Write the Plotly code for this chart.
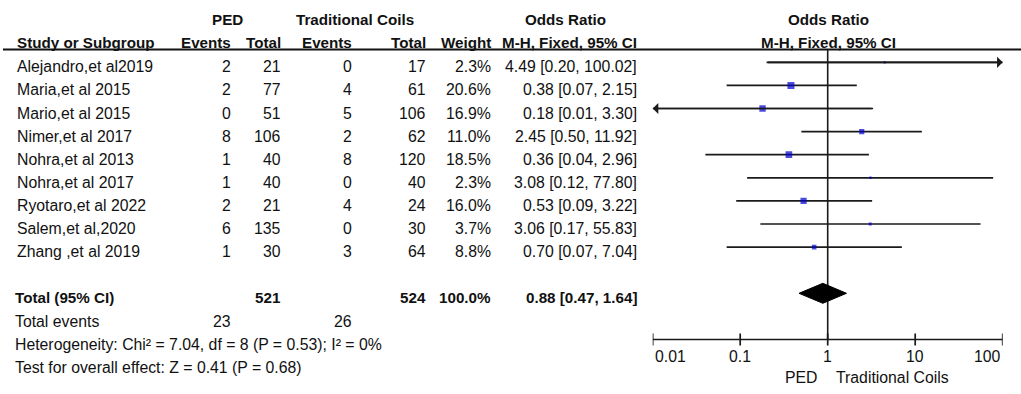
import numpy as np
import plotly.graph_objects as go

# ---------------- data ----------------
studies = ["Alejandro,et al2019", "Maria,et al 2015", "Mario,et al 2015", "Nimer,et al 2017",
           "Nohra,et al 2013", "Nohra,et al 2017", "Ryotaro,et al 2022", "Salem,et al,2020",
           "Zhang ,et al 2019"]
ped_events = [2, 2, 0, 8, 1, 1, 2, 6, 1]
ped_total = [21, 77, 51, 106, 40, 40, 21, 135, 30]
tc_events = [0, 4, 5, 2, 8, 0, 4, 0, 3]
tc_total = [17, 61, 106, 62, 120, 40, 24, 30, 64]
weights = [2.3, 20.6, 16.9, 11.0, 18.5, 2.3, 16.0, 3.7, 8.8]
or_est = [4.49, 0.38, 0.18, 2.45, 0.36, 3.08, 0.53, 3.06, 0.70]
ci_low = [0.20, 0.07, 0.01, 0.50, 0.04, 0.12, 0.09, 0.17, 0.07]
ci_high = [100.02, 2.15, 3.30, 11.92, 2.96, 77.80, 3.22, 55.83, 7.04]

pooled_or = 0.88
pooled_low = 0.47
pooled_high = 1.64
ped_total_n = 521
tc_total_n = 524
ped_total_events = 23
tc_total_events = 26
total_weight = 100.0

heterogeneity_text = "Heterogeneity: Chi² = 7.04, df = 8 (P = 0.53); I² = 0%"
overall_text = "Test for overall effect: Z = 0.41 (P = 0.68)"

tick_vals = [0.01, 0.1, 1, 10, 100]
tick_text = ["0.01", "0.1", "1", "10", "100"]
favours_left = "PED"
favours_right = "Traditional Coils"

# ---------------- layout helpers ----------------
W, H = 1021, 394
R1_PX, ROW_PX = 62.3, 23.1
Y_TOP = 1 - R1_PX / ROW_PX
Y_BOT = 1 + (H - R1_PX) / ROW_PX
XMIN, XMAX = tick_vals[0], tick_vals[-1]


def row_of(px):
    return 1 + (px - R1_PX) / ROW_PX


TEXT_DROP = 4.5 / ROW_PX
FONT = "Liberation Sans, Arial, sans-serif"
TXT_COLOR = "#111111"
REG = 15.8
BLD = 15.2

annotations = []


def txt(s, xpx, row, anchor="left", bold=False, size=None):
    annotations.append(dict(
        text=f"<b>{s}</b>" if bold else s,
        x=xpx / W, xref="paper", y=row, yref="y",
        xanchor=anchor, yanchor="middle", showarrow=False,
        font=dict(family=FONT, size=size or (BLD if bold else REG), color=TXT_COLOR),
    ))


# column positions (pixels)
X_STUDY = 15
X_PED_EV = 233
X_PED_TOT = 283
X_TC_EV = 354
X_TC_TOT = 428
X_WEIGHT = 493
X_OR = 639
X_PLOT_C = 828

# headers
r_h1 = row_of(19)
r_h2 = row_of(42)
txt("PED", 227, r_h1, "center", True)
txt("Traditional Coils", 355, r_h1, "center", True)
txt("Odds Ratio", 565, r_h1, "center", True)
txt("Odds Ratio", X_PLOT_C, r_h1, "center", True)
txt("Study or Subgroup", X_STUDY, r_h2, "left", True)
txt("Events", X_PED_EV, r_h2, "right", True)
txt("Total", X_PED_TOT, r_h2, "right", True)
txt("Events", X_TC_EV, r_h2, "right", True)
txt("Total", X_TC_TOT, r_h2, "right", True)
txt("Weight", X_WEIGHT, r_h2, "right", True)
txt("M-H, Fixed, 95% CI", X_OR, r_h2, "right", True)
txt("M-H, Fixed, 95% CI", X_PLOT_C, r_h2, "center", True)

rows = list(range(1, len(studies) + 1))
for i, r in enumerate(rows):
    rt = r + TEXT_DROP
    txt(studies[i], X_STUDY, rt, "left")
    txt(str(ped_events[i]), X_PED_EV, rt, "right")
    txt(str(ped_total[i]), X_PED_TOT, rt, "right")
    txt(str(tc_events[i]), X_TC_EV, rt, "right")
    txt(str(tc_total[i]), X_TC_TOT, rt, "right")
    txt(f"{weights[i]:.1f}%", X_WEIGHT, rt, "right")
    txt(f"{or_est[i]:.2f} [{ci_low[i]:.2f}, {ci_high[i]:.2f}]", X_OR, rt, "right")

total_row = len(studies) + 2
rt = total_row + TEXT_DROP
txt("Total (95% CI)", 13, rt, "left", True)
txt(str(ped_total_n), X_PED_TOT, rt, "right", True)
txt(str(tc_total_n), X_TC_TOT, rt, "right", True)
txt(f"{total_weight:.1f}%", X_WEIGHT, rt, "right", True)
txt(f"{pooled_or:.2f} [{pooled_low:.2f}, {pooled_high:.2f}]", X_OR, rt, "right", True)

r_ev = row_of(321.5)
txt("Total events", 13, r_ev, "left")
txt(str(ped_total_events), X_PED_EV, r_ev, "right")
txt(str(tc_total_events), X_TC_EV, r_ev, "right")
txt(heterogeneity_text, 13, row_of(344.5), "left")
txt(overall_text, 13, row_of(367.5), "left")

# ---------------- figure ----------------
fig = go.Figure()

underline_row = row_of(49.5)
axis_row = total_row + 2

# vertical line of no effect
fig.add_trace(go.Scatter(x=[1, 1], y=[underline_row, axis_row], mode="lines",
                         line=dict(color="#1a1a1a", width=1.6), hoverinfo="skip"))

# whiskers
wx, wy = [], []
for i, r in enumerate(rows):
    wx += [max(ci_low[i], XMIN), min(ci_high[i], XMAX), None]
    wy += [r, r, None]
fig.add_trace(go.Scatter(x=wx, y=wy, mode="lines",
                         line=dict(color="#1a1a1a", width=1.7), hoverinfo="skip"))

# arrows for truncated CIs
for i, r in enumerate(rows):
    if ci_high[i] >= XMAX:
        annotations.append(dict(x=np.log10(XMAX), y=r, xref="x", yref="y",
                                ax=np.log10(max(ci_low[i], XMIN)), ay=r, axref="x", ayref="y",
                                text="", showarrow=True, arrowhead=1, arrowsize=1.1,
                                arrowwidth=1.7, arrowcolor="#1a1a1a"))
    if ci_low[i] <= XMIN:
        annotations.append(dict(x=np.log10(XMIN), y=r, xref="x", yref="y",
                                ax=np.log10(min(ci_high[i], XMAX)), ay=r, axref="x", ayref="y",
                                text="", showarrow=True, arrowhead=1, arrowsize=1.1,
                                arrowwidth=1.7, arrowcolor="#1a1a1a"))

# point estimates (square area proportional to weight)
fig.add_trace(go.Scatter(x=or_est, y=rows, mode="markers",
                         marker=dict(symbol="square", color="#0000CD",
                                     size=[1.55 * np.sqrt(w) for w in weights],
                                     line=dict(width=0)),
                         hoverinfo="skip"))

# pooled diamond
dh = 10 / ROW_PX
fig.add_trace(go.Scatter(x=[pooled_low, pooled_or, pooled_high, pooled_or, pooled_low],
                         y=[total_row, total_row - dh, total_row, total_row + dh, total_row],
                         mode="lines", fill="toself", fillcolor="#000000",
                         line=dict(color="#000000", width=1), hoverinfo="skip"))

# bottom axis line and ticks
fig.add_trace(go.Scatter(x=[XMIN, XMAX], y=[axis_row, axis_row], mode="lines",
                         line=dict(color="#1a1a1a", width=1.7), hoverinfo="skip"))
tx, ty = [], []
tl = 6 / ROW_PX
for t in tick_vals:
    tx += [t, t, None]
    ty += [axis_row - tl, axis_row + tl, None]
fig.add_trace(go.Scatter(x=tx, y=ty, mode="lines",
                         line=dict(color="#1a1a1a", width=1.7), hoverinfo="skip"))

r_tick = row_of(356.5)
for k, (t, lab) in enumerate(zip(tick_vals, tick_text)):
    anchor = "left" if k == 0 else ("right" if k == len(tick_vals) - 1 else "center")
    annotations.append(dict(text=lab, x=np.log10(t), xref="x", y=r_tick, yref="y",
                            xanchor=anchor, yanchor="middle", showarrow=False,
                            font=dict(family=FONT, size=REG, color=TXT_COLOR)))

r_fav = row_of(377)
txt(favours_left, 819, r_fav, "right")
txt(favours_right, 834, r_fav, "left")

fig.update_layout(
    width=W, height=H,
    margin=dict(l=0, r=0, t=0, b=0),
    paper_bgcolor="white", plot_bgcolor="white",
    showlegend=False,
    xaxis=dict(type="log", range=[np.log10(XMIN), np.log10(XMAX)],
               domain=[652.7 / W, 1002.7 / W], visible=False),
    yaxis=dict(range=[Y_BOT, Y_TOP], domain=[0, 1], visible=False),
    annotations=annotations,
    shapes=[dict(type="line", xref="paper", yref="y", x0=3 / W, x1=1,
                 y0=underline_row, y1=underline_row,
                 line=dict(color="#111111", width=2))],
)

fig.write_html("out.html", config={"displayModeBar": False},
               post_script="document.body.style.margin='0';document.body.style.overflow='hidden';")
